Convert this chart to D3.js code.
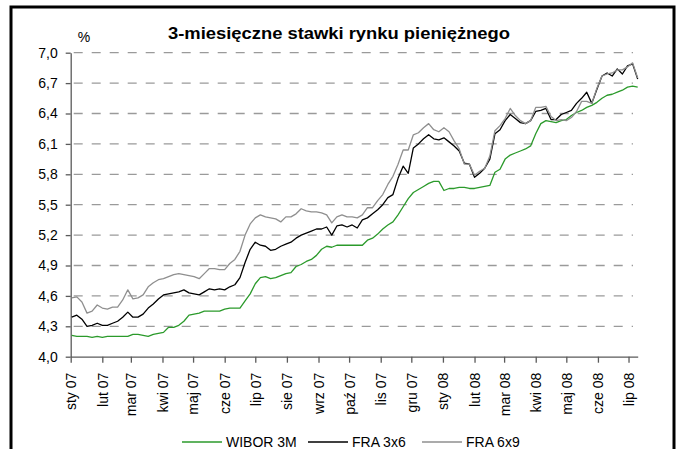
<!DOCTYPE html>
<html>
<head>
<meta charset="utf-8">
<script src="https://cdn.jsdelivr.net/npm/d3@7/dist/d3.min.js"></script>
<style>
  html, body { margin: 0; padding: 0; background: #fff; }
  svg { display: block; font-family: Arial, "Liberation Sans", sans-serif; }
</style>
</head>
<body>
<svg id="chart" width="679" height="449"></svg>
<script>
const title = "3-miesięczne stawki rynku pieniężnego";
const seriesNames = ["WIBOR 3M", "FRA 3x6", "FRA 6x9"];
const seriesColors = ["#2b9a2b", "#000000", "#8f8f8f"];
const monthAbbr = ["sty", "lut", "mar", "kwi", "maj", "cze", "lip", "sie", "wrz", "paź", "lis", "gru"];
const yTicks = [4.0, 4.3, 4.6, 4.9, 5.2, 5.5, 5.8, 6.1, 6.4, 6.7, 7.0];

const dates = [
  "2007-01-02", "2007-01-07", "2007-01-12", "2007-01-17", "2007-01-22", "2007-01-27",
  "2007-02-01", "2007-02-06", "2007-02-11", "2007-02-16", "2007-02-21", "2007-02-26",
  "2007-03-03", "2007-03-08", "2007-03-13", "2007-03-18", "2007-03-23", "2007-03-28",
  "2007-04-02", "2007-04-07", "2007-04-12", "2007-04-17", "2007-04-22", "2007-04-27",
  "2007-05-02", "2007-05-07", "2007-05-12", "2007-05-17", "2007-05-22", "2007-05-27",
  "2007-06-01", "2007-06-06", "2007-06-11", "2007-06-16", "2007-06-21", "2007-06-26",
  "2007-07-01", "2007-07-06", "2007-07-11", "2007-07-16", "2007-07-21", "2007-07-26",
  "2007-07-31", "2007-08-05", "2007-08-10", "2007-08-15", "2007-08-20", "2007-08-25",
  "2007-08-30", "2007-09-04", "2007-09-09", "2007-09-14", "2007-09-19", "2007-09-24",
  "2007-09-29", "2007-10-04", "2007-10-09", "2007-10-14", "2007-10-19", "2007-10-24",
  "2007-10-29", "2007-11-03", "2007-11-08", "2007-11-13", "2007-11-18", "2007-11-23",
  "2007-11-28", "2007-12-03", "2007-12-08", "2007-12-13", "2007-12-18", "2007-12-23",
  "2007-12-28", "2008-01-02", "2008-01-07", "2008-01-12", "2008-01-17", "2008-01-22",
  "2008-01-27", "2008-02-01", "2008-02-06", "2008-02-11", "2008-02-16", "2008-02-21",
  "2008-02-26", "2008-03-02", "2008-03-07", "2008-03-12", "2008-03-17", "2008-03-22",
  "2008-03-27", "2008-04-01", "2008-04-06", "2008-04-11", "2008-04-16", "2008-04-21",
  "2008-04-26", "2008-05-01", "2008-05-06", "2008-05-11", "2008-05-16", "2008-05-21",
  "2008-05-26", "2008-05-31", "2008-06-05", "2008-06-10", "2008-06-15", "2008-06-20",
  "2008-06-25", "2008-06-30", "2008-07-05", "2008-07-10"
];

const wibor3m = [
  4.21, 4.20, 4.20, 4.20, 4.19, 4.20, 4.19, 4.20, 4.20, 4.20, 4.20, 4.20,
  4.22, 4.22, 4.21, 4.20, 4.22, 4.23, 4.24, 4.29, 4.29, 4.31, 4.35, 4.41,
  4.42, 4.43, 4.45, 4.45, 4.45, 4.45, 4.47, 4.48, 4.48, 4.48, 4.55, 4.62,
  4.72, 4.78, 4.79, 4.77, 4.78, 4.80, 4.82, 4.83, 4.89, 4.91, 4.94, 4.96,
  5.00, 5.06, 5.09, 5.08, 5.10, 5.10, 5.10, 5.10, 5.10, 5.10, 5.15, 5.17,
  5.21, 5.26, 5.30, 5.33, 5.40, 5.48, 5.56, 5.62, 5.65, 5.68, 5.71, 5.73,
  5.73, 5.64, 5.66, 5.66, 5.67, 5.67, 5.66, 5.66, 5.67, 5.68, 5.69, 5.82,
  5.85, 5.95, 5.99, 6.01, 6.03, 6.05, 6.08, 6.20, 6.30, 6.33, 6.32, 6.31,
  6.33, 6.34, 6.38, 6.41, 6.43, 6.46, 6.48, 6.51, 6.55, 6.58, 6.59, 6.61,
  6.63, 6.66, 6.67, 6.66
];

const fra3x6 = [
  4.39, 4.41, 4.37, 4.30, 4.31, 4.33, 4.31, 4.31, 4.33, 4.35, 4.39, 4.44,
  4.39, 4.39, 4.42, 4.48, 4.52, 4.57, 4.61, 4.62, 4.63, 4.64, 4.66, 4.63,
  4.62, 4.61, 4.64, 4.67, 4.66, 4.67, 4.66, 4.69, 4.71, 4.78, 4.93, 5.06,
  5.13, 5.10, 5.09, 5.05, 5.06, 5.09, 5.11, 5.13, 5.17, 5.20, 5.22, 5.24,
  5.26, 5.26, 5.28, 5.20, 5.29, 5.30, 5.28, 5.30, 5.27, 5.35, 5.37, 5.41,
  5.45, 5.50, 5.57, 5.60, 5.76, 5.88, 5.81, 6.06, 6.10, 6.15, 6.19, 6.15,
  6.14, 6.16, 6.12, 6.08, 6.03, 5.91, 5.90, 5.77, 5.81, 5.86, 5.95, 6.20,
  6.24, 6.33, 6.39, 6.35, 6.31, 6.30, 6.33, 6.42, 6.43, 6.45, 6.34, 6.34,
  6.39, 6.41, 6.43, 6.50, 6.55, 6.61, 6.50, 6.64, 6.77, 6.80, 6.77, 6.84,
  6.79, 6.87, 6.89, 6.74
];

const fra6x9 = [
  4.58, 4.59, 4.54, 4.43, 4.45, 4.51, 4.48, 4.47, 4.49, 4.49, 4.56, 4.66,
  4.57, 4.58, 4.61, 4.69, 4.73, 4.76, 4.77, 4.79, 4.81, 4.82, 4.81, 4.80,
  4.79, 4.77, 4.82, 4.87, 4.87, 4.86, 4.86, 4.92, 4.96, 5.04, 5.20, 5.31,
  5.37, 5.40, 5.38, 5.37, 5.36, 5.33, 5.38, 5.38, 5.41, 5.46, 5.44, 5.43,
  5.43, 5.42, 5.40, 5.32, 5.38, 5.40, 5.38, 5.38, 5.37, 5.40, 5.47, 5.47,
  5.54, 5.60, 5.70, 5.78, 5.90, 6.04, 6.04, 6.19, 6.21, 6.26, 6.30, 6.24,
  6.22, 6.26, 6.22, 6.13, 6.05, 5.90, 5.90, 5.79, 5.83, 5.86, 5.98, 6.23,
  6.28, 6.35, 6.45, 6.38, 6.33, 6.30, 6.33, 6.46, 6.46, 6.47, 6.37, 6.33,
  6.34, 6.33, 6.36, 6.42, 6.52, 6.52, 6.50, 6.65, 6.77, 6.79, 6.80, 6.83,
  6.83, 6.86, 6.90, 6.75
];

const width = 679;
const height = 449;
const margin = { top: 52.7, right: 41.3, bottom: 92.3, left: 70.7 };

const svg = d3.select("#chart");
const parseDate = d3.timeParse("%Y-%m-%d");
const xDates = dates.map(parseDate);
const seriesValues = [wibor3m, fra3x6, fra6x9];

const x = d3.scaleTime()
    .domain([new Date(2007, 0, 1), new Date(2008, 6, 10)])
    .range([margin.left, width - margin.right]);

const y = d3.scaleLinear()
    .domain([4.0, 7.0])
    .range([height - margin.bottom, margin.top]);

const fmt = (v) => d3.format(".1f")(v).replace(".", ",");

// outer frame
svg.append("rect")
    .attr("x", 11).attr("y", 7)
    .attr("width", 663).attr("height", 460)
    .attr("fill", "#fff")
    .attr("stroke", "#000")
    .attr("stroke-width", 3);

// grid
svg.append("g")
    .selectAll("line")
    .data(yTicks.filter((t) => t > 4.0))
    .join("line")
    .attr("x1", margin.left)
    .attr("x2", 633)
    .attr("y1", (d) => y(d))
    .attr("y2", (d) => y(d))
    .attr("stroke", "#9a9a9a")
    .attr("stroke-width", 1.3)
    .attr("stroke-dasharray", "9,9")
    .attr("stroke-dashoffset", -3);

// y axis
const yAxis = svg.append("g")
    .attr("transform", `translate(${margin.left},0)`)
    .call(d3.axisLeft(y).tickValues(yTicks).tickFormat(fmt).tickSize(5).tickPadding(8).tickSizeOuter(0));

// x axis
const monthTicks = d3.timeMonth.range(new Date(2007, 0, 1), new Date(2008, 6, 2));
const xAxis = svg.append("g")
    .attr("transform", `translate(0,${height - margin.bottom})`)
    .call(d3.axisBottom(x).tickValues(monthTicks).tickSize(6).tickSizeOuter(0)
        .tickFormat((d) => monthAbbr[d.getMonth()] + " " + d3.timeFormat("%y")(d)));

xAxis.selectAll("text")
    .attr("transform", "rotate(-90)")
    .attr("text-anchor", "end")
    .attr("x", -16)
    .attr("y", 0)
    .attr("dy", "0.35em");

[yAxis, xAxis].forEach((ax) => {
    ax.select(".domain").attr("stroke", "#5a5a5a").attr("stroke-width", 1.3);
    ax.selectAll(".tick line").attr("stroke", "#5a5a5a").attr("stroke-width", 1.3);
    ax.selectAll("text").attr("font-size", 14).attr("fill", "#000")
        .attr("font-family", "Arial, 'Liberation Sans', sans-serif");
});

// series
const line = d3.line()
    .x((d) => x(d[0]))
    .y((d) => y(d[1]));

svg.append("g")
    .selectAll("path")
    .data(seriesValues.map((vals) => xDates.map((d, i) => [d, vals[i]])))
    .join("path")
    .attr("d", line)
    .attr("fill", "none")
    .attr("stroke", (d, i) => seriesColors[i])
    .attr("stroke-width", 1.3)
    .attr("stroke-linejoin", "round");

// title and unit
svg.append("text")
    .attr("x", 339)
    .attr("y", 38.5)
    .attr("text-anchor", "middle")
    .attr("font-size", 16)
    .attr("font-weight", "bold")
    .attr("textLength", 342)
    .attr("lengthAdjust", "spacingAndGlyphs")
    .text(title);

svg.append("text")
    .attr("x", 84)
    .attr("y", 42)
    .attr("text-anchor", "middle")
    .attr("font-size", 14)
    .text("%");

// legend
const legendX = [182, 308, 422];
const legend = svg.append("g")
    .selectAll("g")
    .data(seriesNames)
    .join("g")
    .attr("transform", (d, i) => `translate(${legendX[i]},442)`);

legend.append("line")
    .attr("x1", 0).attr("x2", 40)
    .attr("stroke", (d, i) => seriesColors[i])
    .attr("stroke-width", 1.6);

legend.append("text")
    .attr("x", 44)
    .attr("dy", "0.35em")
    .attr("font-size", 14)
    .text((d) => d);
</script>
</body>
</html>
